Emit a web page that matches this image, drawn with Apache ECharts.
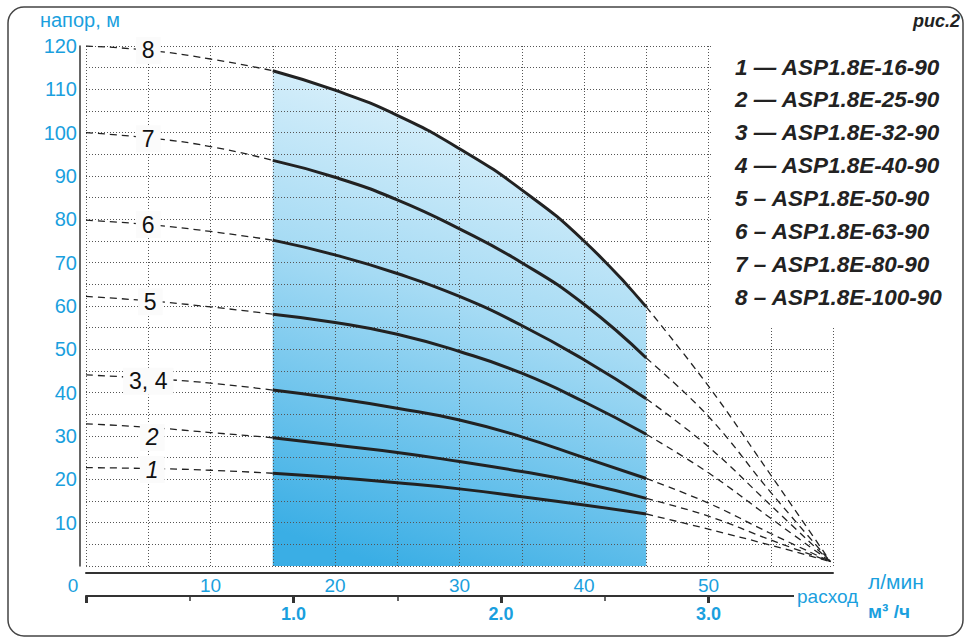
<!DOCTYPE html>
<html><head><meta charset="utf-8">
<script src="https://cdn.jsdelivr.net/npm/echarts@6/dist/echarts.min.js"></script>
<style>html,body{margin:0;padding:0;background:#fff}#c{width:969px;height:639px}</style>
</head><body><div id="c"></div>
<script>
// ---- data (flow in l/min, head in m) ----
const flowLeft  = [0, 5, 10, 15];
const flowMid   = [15, 20, 25, 30, 35, 40, 45];
const flowRight = [45, 50, 55, 59.8];

const curveLabels = ['1', '2', '3, 4', '5', '6', '7', '8'];

const headLeft1 = [22.7, 22.5, 22.1, 21.4];
const headLeft2 = [32.8, 32.0, 30.8, 29.6];
const headLeft34 = [44.1, 43.3, 42.2, 40.6];
const headLeft5 = [62.2, 61.2, 59.8, 58.1];
const headLeft6 = [79.8, 78.8, 77.2, 75.2];
const headLeft7 = [100, 98.8, 96.8, 93.6];
const headLeft8 = [120, 119, 117, 114.3];

const headMid1 = [21.4, 20.4, 19.2, 17.8, 16.0, 14.1, 12.0];
const headMid2 = [29.6, 27.9, 26.2, 24.1, 21.8, 19.1, 15.6];
const headMid34 = [40.6, 38.7, 36.4, 33.7, 29.8, 25.0, 20.2];
const headMid5 = [58.1, 56.2, 53.5, 49.5, 44.5, 37.9, 30.4];
const headMid6 = [75.2, 71.8, 67.5, 62.2, 55.5, 47.6, 38.6];
const headMid7 = [93.6, 89.7, 84.5, 77.8, 70.0, 60.4, 48.0];
const headMid8 = [114.3, 109.8, 104.0, 96.3, 86.8, 75.0, 59.8];

const headRight1 = [12.0, 8.5, 4.8, 1];
const headRight2 = [15.6, 11.5, 6.0, 1];
const headRight34 = [20.2, 14.5, 7.5, 1];
const headRight5 = [30.4, 21.5, 11.0, 1];
const headRight6 = [38.6, 27.5, 14.0, 1];
const headRight7 = [48.0, 34.5, 17.0, 1];
const headRight8 = [59.8, 41.5, 21.0, 1];

const legendLabels = [
  '1 — ASP1.8E-16-90', '2 — ASP1.8E-25-90', '3 — ASP1.8E-32-90', '4 — ASP1.8E-40-90',
  '5 – ASP1.8E-50-90', '6 – ASP1.8E-63-90', '7 – ASP1.8E-80-90', '8 – ASP1.8E-100-90'
];

const yAxisName = 'напор, м';
const figLabel = 'рис.2';
const flowName = 'расход';
const unitLmin = 'л/мин';
const unitM3h = 'м³ /ч';

// ---- build ----
const BLUE = '#1a9fde';
const INK = '#222';
const FONT = 'Liberation Sans, Arial, sans-serif';

const lefts = [headLeft1, headLeft2, headLeft34, headLeft5, headLeft6, headLeft7, headLeft8];
const mids = [headMid1, headMid2, headMid34, headMid5, headMid6, headMid7, headMid8];
const rights = [headRight1, headRight2, headRight34, headRight5, headRight6, headRight7, headRight8];

const zip = (xs, ys) => xs.map((x, i) => [x, ys[i]]);
const labelOffsets = [[4, 1], [4, 10], [0, 3], [2, 1], [0, 0], [0, 1], [0, 0]];

const series = [];
// shaded working range under curve 8
series.push({
  type: 'line', data: zip(flowMid, headMid8), smooth: 0.5, symbol: 'none', z: 1,
  lineStyle: { width: 0, opacity: 0 },
  areaStyle: {
    opacity: 1,
    color: new echarts.graphic.LinearGradient(0.55, 0, 0.3, 1, [
      { offset: 0, color: '#e4f4fc' },
      { offset: 0.45, color: '#a6dbf4' },
      { offset: 1, color: '#3aaee5' }
    ])
  },
  silent: true
});

lefts.forEach((ys) => {
  series.push({
    type: 'line', data: zip(flowLeft, ys), smooth: 0.5, symbol: 'none', z: 3,
    lineStyle: { color: INK, width: 1.3, type: [7, 5] }
  });
});
mids.forEach((ys) => {
  series.push({
    type: 'line', data: zip(flowMid, ys), smooth: 0.5, symbol: 'none', z: 4,
    lineStyle: { color: INK, width: 3 }
  });
});
rights.forEach((ys) => {
  series.push({
    type: 'line', data: zip(flowRight, ys), smooth: 0.4, symbol: 'none', z: 3,
    lineStyle: { color: INK, width: 1.3, type: [7, 5] }
  });
});
// curve number labels placed on the dashed start of each curve
series.push({
  type: 'scatter', z: 5, silent: true,
  symbol: 'circle', symbolSize: 1, itemStyle: { color: '#ffffff', opacity: 1 },
  data: lefts.map((ys, i) => {
    const italic = curveLabels[i] === '1' || curveLabels[i] === '2';
    return {
      value: [flowLeft[1], ys[1]],
      label: {
        show: true, position: 'inside', formatter: curveLabels[i],
        offset: labelOffsets[i],
        fontFamily: FONT, fontSize: 23, color: '#111111', opacity: 1,
        textBorderWidth: 0, fontWeight: 500,
        fontStyle: italic ? 'italic' : 'normal',
        backgroundColor: '#fbfbfb', padding: [3, 6, 1, 6]
      }
    };
  })
});

const graphics = [
  { type: 'rect', z: 0, silent: true,
    shape: { x: 8, y: 7, width: 955, height: 629, r: 16 },
    style: { fill: 'none', stroke: '#444', lineWidth: 1.5 } },
  { type: 'rect', z: 50, silent: true,
    shape: { x: 711, y: 36, width: 246, height: 292 },
    style: { fill: '#fff' } },
  { type: 'rect', z: 50, silent: true,
    shape: { x: 794, y: 588, width: 70, height: 18 },
    style: { fill: '#fff' } },
  { type: 'text', z: 60, x: 960, y: 21,
    style: { text: figLabel, fill: INK, font: 'italic bold 18px ' + FONT, textAlign: 'right', textVerticalAlign: 'middle' } },
  { type: 'text', z: 60, x: 73, y: 585,
    style: { text: '0', fill: BLUE, font: '19px ' + FONT, textAlign: 'center', textVerticalAlign: 'middle' } },
  { type: 'text', z: 60, x: 797, y: 596,
    style: { text: flowName, fill: BLUE, font: '19px ' + FONT, textAlign: 'left', textVerticalAlign: 'middle' } },
  { type: 'text', z: 60, x: 868, y: 581,
    style: { text: unitLmin, fill: BLUE, font: '21px ' + FONT, textAlign: 'left', textVerticalAlign: 'middle' } },
  { type: 'text', z: 60, x: 868, y: 611,
    style: { text: unitM3h, fill: BLUE, font: 'bold 19px ' + FONT, textAlign: 'left', textVerticalAlign: 'middle' } }
];
legendLabels.forEach((t, i) => {
  graphics.push({ type: 'text', z: 60, x: 735, y: 67 + i * 32.9,
    style: { text: t, fill: INK, font: 'italic bold 22.5px ' + FONT, textAlign: 'left', textVerticalAlign: 'middle' } });
});

const split = { show: true, lineStyle: { color: '#555', width: 1, type: [1, 2] } };

const chart = echarts.init(document.getElementById('c'), null, { renderer: 'svg' });
chart.setOption({
  animation: false,
  backgroundColor: '#fff',
  grid: { left: 86, right: 136, top: 46, bottom: 73, containLabel: false },
  xAxis: [{
    type: 'value', min: 0, max: 60, interval: 5, offset: 7, z: 2,
    axisLine: { show: true, onZero: false, lineStyle: { color: '#333', width: 2 } },
    axisTick: { show: false },
    axisLabel: { color: BLUE, fontSize: 19, fontFamily: FONT, margin: 3,
      formatter: v => (v % 10 === 0 && v > 0 && v < 60) ? String(v) : '' },
    splitLine: split
  }, {
    type: 'value', min: 0, max: 3.6, interval: 1, offset: 30, position: 'bottom', z: 2,
    axisLine: { show: true, onZero: false, lineStyle: { color: '#333', width: 2 } },
    axisTick: { show: true, length: 7, lineStyle: { color: '#333', width: 3 } },
    minorTick: { show: true, splitNumber: 2, length: 5, lineStyle: { color: '#333', width: 1.5 } },
    axisLabel: { color: BLUE, fontSize: 18, fontWeight: 'bold', fontFamily: FONT, margin: 9,
      formatter: v => (v > 0 && Math.abs(v - Math.round(v)) < 1e-9) ? v.toFixed(1) : '' },
    splitLine: { show: false }
  }],
  yAxis: {
    type: 'value', min: 0, max: 120, interval: 5, offset: 6, z: 2,
    name: yAxisName, nameLocation: 'end', nameGap: 16,
    nameTextStyle: { color: BLUE, fontSize: 20, fontFamily: FONT },
    axisLine: { show: true, onZero: false, lineStyle: { color: '#333', width: 1.5 } },
    axisTick: { show: false },
    axisLabel: { color: BLUE, fontSize: 20, fontFamily: FONT, margin: 3,
      formatter: v => (v % 10 === 0 && v > 0) ? String(v) : '' },
    splitLine: split
  },
  series,
  graphic: graphics
});
</script></body></html>
